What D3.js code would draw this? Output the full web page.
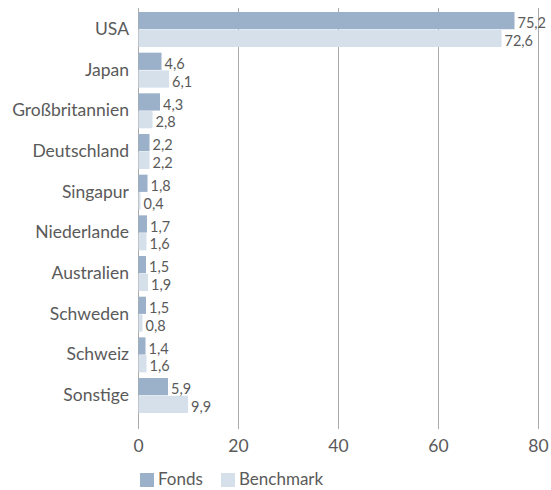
<!DOCTYPE html>
<html>
<head>
<meta charset="utf-8">
<script src="https://cdn.jsdelivr.net/npm/d3@7"></script>
<style>
  body { margin: 0; background: #fff; }
  text { font-family: Lato, "Open Sans", sans-serif; font-weight: 400; fill: #5a5a5a; }
</style>
</head>
<body>
<svg id="chart" width="551" height="490"></svg>
<script>
var categories = ["USA", "Japan", "Großbritannien", "Deutschland", "Singapur",
                  "Niederlande", "Australien", "Schweden", "Schweiz", "Sonstige"];
var fonds = [75.2, 4.6, 4.3, 2.2, 1.8, 1.7, 1.5, 1.5, 1.4, 5.9];
var benchmark = [72.6, 6.1, 2.8, 2.2, 0.4, 1.6, 1.9, 0.8, 1.6, 9.9];
var seriesNames = ["Fonds", "Benchmark"];
var ticks = [0, 20, 40, 60, 80];

var colors = ["#9bb0c9", "#d6e0eb"];

var svg = d3.select("#chart");

var x = d3.scaleLinear().domain([0, 80]).range([138.5, 538.5]);
var y = d3.scaleBand().domain(categories).range([12, 413]).paddingInner(0.14).paddingOuter(0);
var sub = d3.scaleBand().domain(seriesNames).range([0, y.bandwidth()]).paddingInner(0.03);

var fmt = function (v) { return d3.format(".1f")(v).replace(".", ","); };

// gridlines
svg.append("g").selectAll("line")
    .data(ticks)
    .enter().append("line")
    .attr("x1", function (d) { return x(d); })
    .attr("x2", function (d) { return x(d); })
    .attr("y1", 8)
    .attr("y2", 429)
    .attr("stroke", "#aaa")
    .attr("stroke-width", 1);

// bars
var rows = categories.map(function (c, i) {
    return { cat: c, vals: [fonds[i], benchmark[i]] };
});

var groups = svg.append("g").selectAll("g")
    .data(rows)
    .enter().append("g")
    .attr("transform", function (d) { return "translate(0," + y(d.cat) + ")"; });

groups.selectAll("rect")
    .data(function (d) { return d.vals.map(function (v, j) { return { s: seriesNames[j], v: v, j: j }; }); })
    .enter().append("rect")
    .attr("x", x(0))
    .attr("y", function (d) { return sub(d.s); })
    .attr("width", function (d) { return x(d.v) - x(0); })
    .attr("height", sub.bandwidth())
    .attr("fill", function (d) { return colors[d.j]; });

groups.selectAll("text.val")
    .data(function (d) { return d.vals.map(function (v, j) { return { s: seriesNames[j], v: v, j: j }; }); })
    .enter().append("text")
    .attr("class", "val")
    .attr("x", function (d) { return x(d.v) + 3; })
    .attr("y", function (d) { return sub(d.s) + sub.bandwidth() / 2 + 4; })
    .attr("dominant-baseline", "middle")
    .attr("font-size", 14.5)
    .text(function (d) { return fmt(d.v); });

// category labels
svg.append("g").selectAll("text")
    .data(categories)
    .enter().append("text")
    .attr("x", 129)
    .attr("y", function (d) { return y(d) + y.bandwidth() / 2 + 1; })
    .attr("text-anchor", "end")
    .attr("dominant-baseline", "middle")
    .attr("font-size", 17.5)
    .text(function (d) { return d; });

// x tick labels
svg.append("g").selectAll("text")
    .data(ticks)
    .enter().append("text")
    .attr("x", function (d) { return x(d); })
    .attr("y", 452)
    .attr("text-anchor", "middle")
    .attr("font-size", 17.5)
    .text(function (d) { return d; });

// legend
var legendX = [140, 221];
var legend = svg.append("g").selectAll("g")
    .data(seriesNames)
    .enter().append("g")
    .attr("transform", function (d, i) { return "translate(" + legendX[i] + ",473)"; });
legend.append("rect")
    .attr("width", 14).attr("height", 14)
    .attr("fill", function (d, i) { return colors[i]; });
legend.append("text")
    .attr("x", 18).attr("y", 8)
    .attr("dominant-baseline", "middle")
    .attr("font-size", 17)
    .text(function (d) { return d; });
</script>
</body>
</html>
